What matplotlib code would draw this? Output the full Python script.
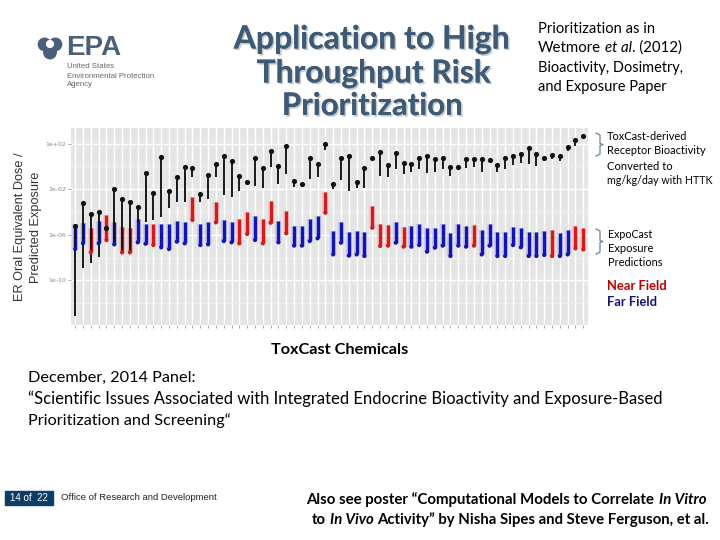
import numpy as np
import matplotlib
matplotlib.use("Agg")
import matplotlib.pyplot as plt
from matplotlib.transforms import IdentityTransform
import matplotlib.patheffects as pe
from matplotlib.patches import Rectangle

# ---------------- data (log10 values) ----------------
bio_top_log = [-5.21, -3.25, -4.22, -3.98, -5.44, -1.99, -2.90, -3.11, -3.54, -0.59,
               -2.32, 0.84, -2.17, -0.91, -0.03, -0.18, -2.43, -0.77, 0.17, 0.90,
               0.49, -0.85, -1.35, 0.75, -0.12, 1.37, -0.01, 1.78, -1.29, -1.53,
               0.75, 0.20, 1.92, -1.53, 0.70, 0.93, -1.35, -0.12, 0.70, 1.22,
               0.11, 1.13, 0.26, 0.20, 0.70, 0.93, 0.61, 0.70, -0.09, -0.03,
               0.61, 0.64, 0.61, 0.55, 0.11, 0.70, 0.90, 1.05, 1.57, 1.08,
               0.70, 0.99, 0.90, 1.66, 2.30, 2.66]
bio_low_log = [-13.13, -8.89, -8.51, -7.93, -5.44, -6.76, -7.49, -7.49, -4.86, -4.86,
               -4.71, -4.42, -3.63, -3.11, -3.16, -0.91, -3.16, -2.87, -0.91, -2.52,
               -2.67, -2.17, -1.35, -1.70, -1.88, -0.03, -1.58, -0.71, -1.82, -1.79,
               -1.15, -0.91, 1.43, -1.99, -1.20, -2.14, -1.88, -1.88, 0.55, -0.82,
               -0.91, -0.27, -0.71, -0.47, -0.27, -0.62, -0.47, -0.27, -0.82, -0.09,
               -0.18, -0.03, -0.47, 0.35, -0.47, -0.27, 0.11, 0.26, 0.20, 0.05,
               0.49, 0.64, 0.46, 1.37, 1.81, 2.45]
exp_top_log = [-5.09, -5.01, -5.39, -4.80, -4.27, -4.86, -5.36, -5.44, -4.65, -5.09,
               -5.09, -5.09, -5.09, -4.77, -4.86, -2.67, -5.09, -4.86, -3.16, -4.71,
               -4.92, -4.63, -4.04, -4.36, -4.63, -3.05, -4.77, -3.89, -5.21, -5.21,
               -4.65, -4.36, -2.23, -5.68, -4.86, -5.80, -5.65, -5.74, -3.49, -5.09,
               -5.15, -4.86, -5.30, -5.21, -5.06, -5.44, -5.44, -5.06, -5.82, -5.09,
               -5.24, -5.15, -5.59, -5.06, -5.80, -5.74, -5.30, -5.44, -5.80, -5.74,
               -5.68, -5.59, -5.82, -5.59, -5.21, -5.44]
exp_low_log = [-7.26, -6.76, -7.55, -6.76, -6.47, -6.85, -7.55, -7.55, -6.67, -6.79,
               -6.91, -7.11, -7.26, -6.61, -6.76, -4.71, -6.91, -6.85, -4.92, -6.56,
               -6.67, -6.76, -5.94, -6.47, -6.76, -4.95, -6.67, -5.88, -6.96, -6.96,
               -6.56, -6.32, -4.07, -7.73, -6.70, -7.84, -7.73, -7.87, -5.39, -6.99,
               -6.96, -6.70, -7.05, -7.05, -6.91, -7.49, -7.14, -6.96, -7.87, -6.96,
               -7.05, -6.96, -7.73, -6.96, -7.87, -7.87, -6.91, -7.11, -7.87, -7.87,
               -7.78, -7.87, -7.87, -7.73, -7.20, -7.29]
field = list("FFNFNFNNFF" "NFFFFNFFNF" "FNNFNNFNFF" "FFNFFFFFNN"
             "NFNFFFFFFF" "FNFFFFFFFF" "FNFFNN")
y_ticks = [1e2, 1e-2, 1e-6, 1e-10]
y_ticklabels = ["1e+02", "1e-02", "1e-06", "1e-10"]

# ---------------- figure ----------------
W, H = 720, 540
fig = plt.figure(figsize=(7.2, 5.4), dpi=100)
fig.patch.set_facecolor("white")
ID = IdentityTransform()
renderer = fig.canvas.get_renderer()


def px(x, y):
    return x, H - y


def put(x, y, s, size, family="Lato", ha="left", va="center", fit=None, **kw):
    X, Y = px(x, y)
    t = fig.text(X, Y, s, fontsize=size, family=family, ha=ha, va=va,
                 transform=ID, **kw)
    if fit is not None:
        w = t.get_window_extent(renderer).width
        t.set_fontsize(size * fit / w)
    return t


def width_of(s, size, family, **kw):
    t = fig.text(0, 0, s, fontsize=size, family=family, transform=ID, **kw)
    w = t.get_window_extent(renderer).width
    t.remove()
    return w


def rich(x, y, pieces, size, family="Lato", fit=None, ha="left", color="black"):
    """pieces: list of (text, kwargs); spaces handled explicitly."""
    sp = width_of("n n", size, family) - width_of("nn", size, family)
    ws = []
    for s, kw in pieces:
        stripped = s.strip(" ")
        w = width_of(stripped, size, family, **kw) if stripped else 0
        lead = len(s) - len(s.lstrip(" "))
        trail = len(s) - len(s.rstrip(" "))
        ws.append((lead, w, trail))
    total = sum(l * sp + w + t * sp for l, w, t in ws)
    scale = 1.0
    if fit is not None:
        scale = fit / total
        size = size * scale
        sp *= scale
        total = fit
    cx = x if ha == "left" else x - total
    for (s, kw), (l, w, t) in zip(pieces, ws):
        cx += l * sp
        stripped = s.strip(" ")
        if stripped:
            X, Y = px(cx, y)
            fig.text(X, Y, stripped, fontsize=size, family=family, ha="left",
                     va="center", transform=ID, color=kw.get("color", color),
                     **{k: v for k, v in kw.items() if k != "color"})
        cx += w * scale + t * sp


# ---------------- chart panel ----------------
left, right, top, bottom = 70.5, 588.0, 127.7, 325.0
ax = fig.add_axes([left / W, 1 - bottom / H, (right - left) / W, (bottom - top) / H])
ax.set_facecolor("#E5E5E5")
ax.set_yscale("log")
ax.set_ylim(10 ** -13.92, 10 ** 3.39)
n = len(bio_top_log)
x = np.arange(1, n + 1)
ax.set_xlim(0.4, n + 0.6)
for s in ax.spines.values():
    s.set_visible(False)
ax.set_yticks(y_ticks)
ax.set_yticklabels(y_ticklabels)
ax.set_yticks([1e0, 1e-4, 1e-8, 1e-12], minor=True)
ax.yaxis.set_minor_formatter(matplotlib.ticker.NullFormatter())
ax.tick_params(axis="y", which="minor", length=0)
ax.tick_params(axis="y", which="major", length=2, width=0.6, color="#999999",
               labelsize=4.5, labelcolor="#8a8a8a", pad=1)
ax.set_xticks(x)
ax.set_xticklabels([])
ax.tick_params(axis="x", length=2, width=0.6, color="#999999")
ax.grid(True, which="major", color="white", lw=1.0)
ax.grid(True, which="minor", axis="y", color="#F2F2F2", lw=0.5)
ax.set_axisbelow(True)

bt = 10.0 ** np.array(bio_top_log)
bl = 10.0 ** np.array(bio_low_log)
et = 10.0 ** np.array(exp_top_log)
el = 10.0 ** np.array(exp_low_log)
cols = ["#D41A1A" if f == "N" else "#1414B4" for f in field]
halo = ["#F4B8B8" if f == "N" else "#B8B8F0" for f in field]

ax.vlines(x, el, et, colors=halo, lw=4.6, alpha=0.6, zorder=2)
ax.vlines(x, el, et, colors=cols, lw=2.4, zorder=3)
ax.scatter(x, el, c=cols, s=9, zorder=4, linewidths=0)
ax.vlines(x, bl, bt, colors="#111111", lw=1.35, zorder=3)
ax.scatter(x, bt, c="#111111", s=14, zorder=4, linewidths=0)

# y-axis label
put(20, 227, "ER Oral Equivalent Dose /", 9.2, family="Liberation Sans",
    ha="center", rotation=90, color="#333333")
put(36, 227, "Predicted Exposure", 9.2, family="Liberation Sans",
    ha="center", rotation=90, color="#333333")

# ---------------- slide decorations ----------------
# EPA logo (approximation)
logo_c = "#4A5F78"
put(66, 48, "EPA", 20, family="Liberation Sans", weight="bold", color=logo_c,
    fit=55)
for dx, dy in [(-6, -4), (6, -4), (0, 5)]:
    X, Y = px(50 + dx * 0.9, 48 + dy * 0.9)
    fig.patches.append(matplotlib.patches.Circle((X, Y), 6.2, transform=ID,
                                                  color=logo_c, figure=fig))
X, Y = px(50, 44)
fig.patches.append(matplotlib.patches.Circle((X, Y), 3.4, transform=ID,
                                              color="white", figure=fig))
put(67, 67, "United States", 5.6, family="Liberation Sans", color="#666666")
put(67, 76, "Environmental Protection", 5.6, family="Liberation Sans", color="#666666")
put(67, 85, "Agency", 5.6, family="Liberation Sans", color="#666666")

# Title
title_c = "#3E5A74"
shadow = [pe.withSimplePatchShadow(offset=(1.2, -1.2), shadow_rgbFace="#9aa7b3",
                                   alpha=0.6), pe.Normal()]
put(372, 39, "Application to High", 20, weight="bold", color=title_c,
    ha="center", fit=276, path_effects=shadow)
put(373, 73, "Throughput Risk", 20, weight="bold", color=title_c,
    ha="center", fit=234, path_effects=shadow)
put(372, 106, "Prioritization", 20, weight="bold", color=title_c,
    ha="center", fit=181, path_effects=shadow)

# Right-top note
put(538, 29, "Prioritization as in", 10, fit=117)
rich(538, 48, [("Wetmore ", {}), ("et al", {"style": "italic"}), (". (2012)", {})],
     10, fit=144)
put(538, 68, "Bioactivity, Dosimetry,", 10, fit=145)
put(538, 87, "and Exposure Paper", 10, fit=128)

# brackets
def bracket(y0, y1, x0=596, x1=600):
    ym = (y0 + y1) / 2
    xs = [x0, x1, x1, x1 + 3, x1, x1, x0]
    ys = [y0, y0 + 2, ym - 1, ym, ym + 1, y1 - 2, y1]
    Y = [H - b for b in ys]
    fig.lines.append(matplotlib.lines.Line2D(xs, Y, transform=ID, color="#6A8597",
                                             lw=0.9, figure=fig))

bracket(133, 156)
bracket(229, 254)

put(607, 136, "ToxCast-derived", 7.5, fit=80)
put(607, 151, "Receptor Bioactivity", 7.5, fit=98)
put(607, 166, "Converted to", 7.5, fit=65)
put(607, 181, "mg/kg/day with HTTK", 7.5, fit=105)
put(608, 234, "ExpoCast", 7.5, fit=44)
put(608, 248, "Exposure", 7.5, fit=45)
put(608, 262, "Predictions", 7.5, fit=54)
put(607, 286, "Near Field", 8.5, weight="bold", color="#C00000", fit=60)
put(607, 302, "Far Field", 8.5, weight="bold", color="#14147A", fit=50)

# x label
put(340, 350, "ToxCast Chemicals", 10, weight="bold", ha="center", fit=137)

# panel note
put(28, 378, "December, 2014 Panel:", 11, fit=167)
put(28, 399, "\u201cScientific Issues Associated with Integrated Endocrine "
    "Bioactivity and Exposure-Based", 11, fit=632)
put(28, 421, "Prioritization and Screening\u201c", 11, fit=202)

# footer
fig.patches.append(Rectangle((5, H - 505), 48, 14, transform=ID,
                             color="#0B3D66", figure=fig))
put(29, 498, "14 of  22", 6.5, family="Liberation Sans", ha="center",
    color="white", fit=38)
put(61, 498, "Office of Research and Development", 5.5,
    family="Liberation Sans", color="#222222", fit=156)

rich(306, 500, [("Also see poster \u201cComputational Models to Correlate ",
                 {"weight": "bold"}),
                ("In Vitro", {"weight": "bold", "style": "italic"})],
     10, fit=401)
rich(312, 520, [("to ", {"weight": "bold"}),
                ("In Vivo", {"weight": "bold", "style": "italic"}),
                (" Activity\u201d by Nisha Sipes and Steve Ferguson, et al.",
                 {"weight": "bold"})],
     10, fit=398)

fig.savefig("out.png", dpi=100)
